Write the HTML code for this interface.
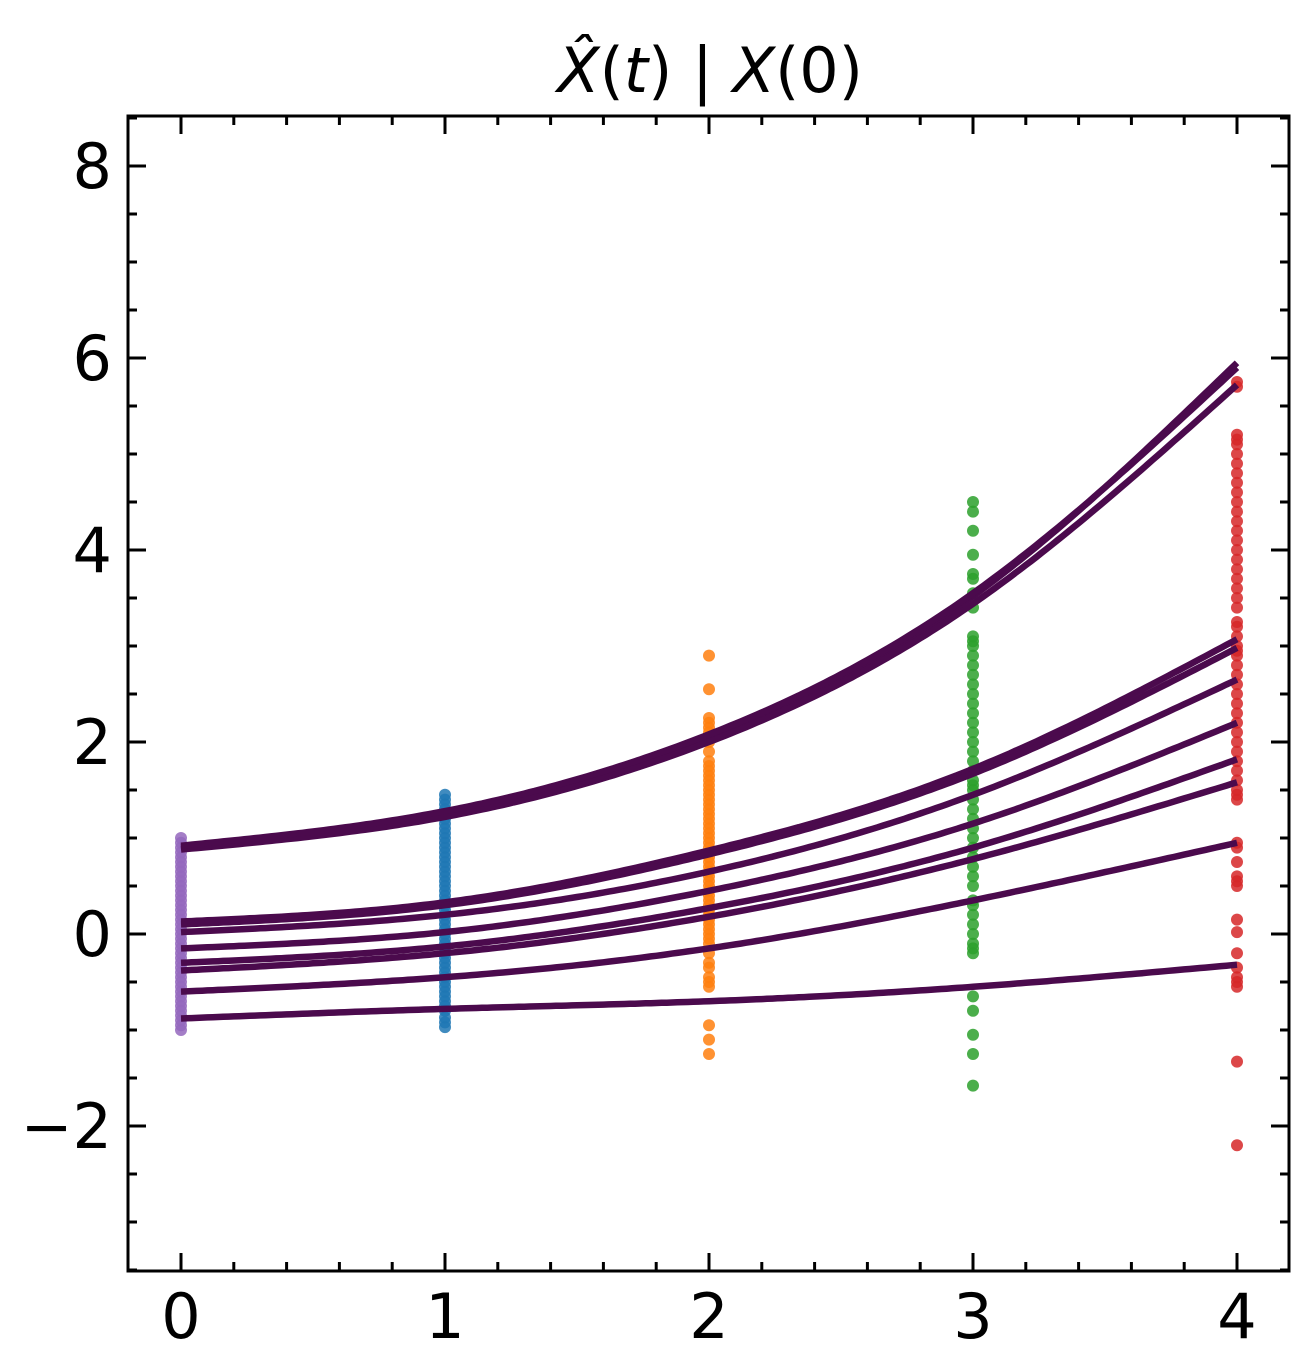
<!DOCTYPE html>
<html><head><meta charset="utf-8"><style>
body{margin:0;background:#fff}
svg text{font-family:"DejaVu Sans","Liberation Sans",sans-serif}
</style></head><body>
<svg id="chart" width="1305" height="1367" xmlns="http://www.w3.org/2000/svg">
<text x="710" y="92" font-size="62" text-anchor="middle"><tspan font-style="italic">X̂</tspan>(<tspan font-style="italic">t</tspan>) | <tspan font-style="italic">X</tspan>(0)</text>
<g id="marks"></g>
<rect x="128" y="116" width="1161" height="1155" fill="none" stroke="#000" stroke-width="3"/>
<g id="ticks"></g>
</svg>
<script>
const timePoints=[0,1,2,3,4];
const xTickLabels=["0","1","2","3","4"];
const yTickValues=[-2,0,2,4,6,8];
const yTickLabels=["−2","0","2","4","6","8"];
const curveA1=[0.9,1.25,2.05,3.52,5.95];
const curveA2=[0.88,1.22,2.0,3.44,5.72];
const curveA3=[0.92,1.28,2.08,3.55,5.9];
const curveB1=[0.13,0.33,0.87,1.72,3.07];
const curveB2=[0.1,0.3,0.83,1.67,2.98];
const curveC=[0.02,0.2,0.65,1.45,2.65];
const curveD=[-0.15,0.02,0.45,1.15,2.2];
const curveE=[-0.3,-0.13,0.27,0.9,1.82];
const curveF=[-0.38,-0.2,0.18,0.78,1.58];
const curveG=[-0.6,-0.45,-0.15,0.35,0.95];
const curveH=[-0.88,-0.78,-0.7,-0.55,-0.32];
const pts0=[-1,-0.95,-0.9,-0.85,-0.8,-0.75,-0.7,-0.65,-0.6,-0.55,-0.5,-0.45,-0.4,-0.35,-0.3,-0.25,-0.2,-0.15,-0.1,-0.05,0,0.05,0.1,0.15,0.2,0.25,0.3,0.35,0.4,0.45,0.5,0.55,0.6,0.65,0.7,0.75,0.8,0.85,0.9,0.95,1.0];
const pts1=[-0.97,-0.92,-0.87,-0.8,-0.75,-0.7,-0.65,-0.6,-0.55,-0.5,-0.45,-0.4,-0.35,-0.3,-0.25,-0.2,-0.15,-0.1,-0.05,0,0.05,0.1,0.15,0.2,0.25,0.3,0.35,0.4,0.45,0.5,0.55,0.6,0.65,0.7,0.75,0.8,0.85,0.9,0.95,1.0,1.05,1.1,1.15,1.2,1.25,1.3,1.35,1.4,1.45];
const pts2=[-1.25,-1.1,-0.95,-0.55,-0.5,-0.45,-0.35,-0.3,-0.2,-0.1,-0.05,0,0.05,0.1,0.15,0.2,0.25,0.3,0.35,0.4,0.45,0.5,0.55,0.6,0.65,0.7,0.75,0.8,0.85,0.9,0.95,1.0,1.05,1.1,1.15,1.2,1.25,1.3,1.35,1.4,1.45,1.5,1.55,1.6,1.65,1.7,1.75,1.8,1.9,2.0,2.05,2.1,2.15,2.2,2.25,2.55,2.9];
const pts3=[-1.58,-1.25,-1.05,-0.8,-0.65,-0.2,-0.15,-0.1,0,0.1,0.2,0.3,0.35,0.5,0.6,0.7,0.8,0.9,1.0,1.1,1.2,1.3,1.4,1.5,1.55,1.6,1.7,1.8,1.9,2.0,2.1,2.2,2.3,2.4,2.5,2.6,2.7,2.8,2.9,3.0,3.05,3.1,3.4,3.55,3.7,3.75,3.95,4.2,4.4,4.5];
const pts4=[-2.2,-1.33,-0.55,-0.5,-0.45,-0.35,-0.2,0.02,0.15,0.5,0.55,0.6,0.75,0.9,0.95,1.4,1.45,1.5,1.6,1.7,1.8,1.9,2.0,2.1,2.2,2.3,2.4,2.5,2.6,2.7,2.8,2.9,2.95,3.0,3.1,3.2,3.25,3.4,3.5,3.6,3.7,3.8,3.9,4.0,4.1,4.2,4.3,4.4,4.5,4.6,4.7,4.8,4.9,5.0,5.1,5.15,5.2,5.7,5.75];
const pointSets=[pts0,pts1,pts2,pts3,pts4];
const pointColors=["#9467bd","#1f77b4","#ff7f0e","#2ca02c","#d62728"];
const curves=[curveA1,curveA2,curveA3,curveB1,curveB2,curveC,curveD,curveE,curveF,curveG,curveH];

const NS="http://www.w3.org/2000/svg";
const x=t=>181+t*264;
const y=v=>934-v*96;
const marks=document.getElementById('marks');
const ticks=document.getElementById('ticks');
function mk(tag,attrs,parent){const e=document.createElementNS(NS,tag);for(const k in attrs)e.setAttribute(k,attrs[k]);parent.appendChild(e);return e;}

pointSets.forEach((set,i)=>{set.forEach((v,j)=>{
 const c=mk('circle',{cx:x(timePoints[i]),cy:y(v),r:6,fill:pointColors[i],opacity:0.85},marks);
 
 
});});

// natural cubic spline
function spline(vals){
 const n=vals.length,h=1;
 const a=new Array(n).fill(0),b=new Array(n).fill(0),c=new Array(n).fill(0),d=new Array(n).fill(0);
 for(let i=1;i<n-1;i++){a[i]=1;b[i]=4;c[i]=1;d[i]=6*(vals[i+1]-2*vals[i]+vals[i-1])/(h*h);}
 b[0]=1;b[n-1]=1;
 for(let i=1;i<n;i++){const m=a[i]/b[i-1];b[i]-=m*c[i-1];d[i]-=m*d[i-1];}
 const M=new Array(n).fill(0);M[n-1]=d[n-1]/b[n-1];
 for(let i=n-2;i>=0;i--)M[i]=(d[i]-c[i]*M[i+1])/b[i];
 let path='';
 for(let k=0;k<=200;k++){
  const t=k/200*(n-1);let i=Math.min(n-2,Math.floor(t));const s=t-i;
  const v=(1-s)*vals[i]+s*vals[i+1]+((1-s)**3-(1-s))*M[i]/6+(s**3-s)*M[i+1]/6;
  path+=(k?'L':'M')+x(t).toFixed(1)+','+y(v).toFixed(1);
 }
 return path;
}
curves.forEach((c,i)=>{
 const p=mk('path',{d:spline(c),fill:'none',stroke:'#4b0a4d',"stroke-width":6.5},marks);
 
 
});

for(let k=0;k<=25;k++){
 const t=-0.2+k*0.2;
 const px=x(t); if(px<129||px>1288)continue;
 const major=Math.abs(t-Math.round(t))<1e-6;
 const L=major?18:9;
 const a=mk('line',{x1:px,x2:px,y1:1271,y2:1271-L,stroke:'#000',"stroke-width":3},ticks);
 
 const b=mk('line',{x1:px,x2:px,y1:116,y2:116+L,stroke:'#000',"stroke-width":3},ticks);
 
}
timePoints.forEach((t,i)=>{
 const tx=mk('text',{x:x(t),y:1338,"font-size":62,"text-anchor":"middle"},ticks);
 tx.textContent=xTickLabels[i];
 
});
for(let v=-3.5;v<=8.5;v+=0.5){
 const py=y(v); if(py<117||py>1270)continue;
 const major=Math.abs(v/2-Math.round(v/2))<1e-6;
 const L=major?18:9;
 const a=mk('line',{x1:128,x2:128+L,y1:py,y2:py,stroke:'#000',"stroke-width":3},ticks);
 
 const b=mk('line',{x1:1289,x2:1289-L,y1:py,y2:py,stroke:'#000',"stroke-width":3},ticks);
 
}
yTickValues.forEach((v,i)=>{
 const tx=mk('text',{x:112,y:y(v)+22,"font-size":62,"text-anchor":"end"},ticks);
 tx.textContent=yTickLabels[i];
 
});
</script>
</body></html>
